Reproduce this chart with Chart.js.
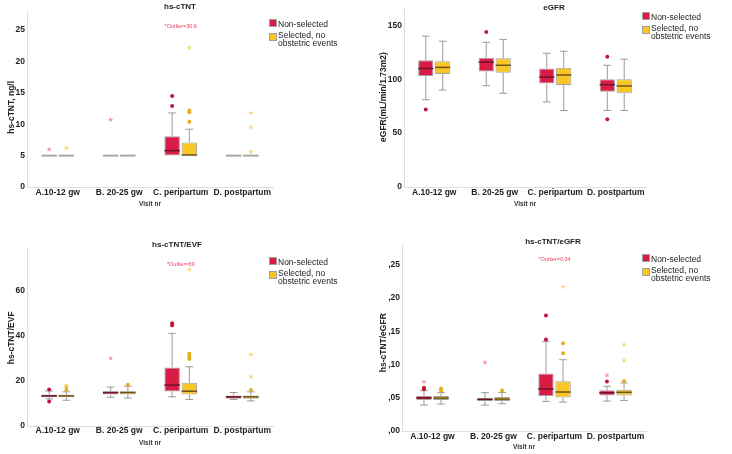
<!DOCTYPE html>
<html>
<head>
<meta charset="utf-8">
<script src="https://cdn.jsdelivr.net/npm/chart.js@4.4.1/dist/chart.umd.min.js"></script>
<style>
  body { margin: 0; background: #fff; }
  #wrap { position: relative; width: 732px; height: 454px; overflow: hidden;
          font-family: 'Liberation Sans', Arial, sans-serif; }
  canvas { position: absolute; }
  .sw { position: absolute; width: 8px; height: 8px; box-sizing: border-box; border: 1px solid #a0a0a0; }
  .lt { position: absolute; font-size: 8.5px; line-height: 10px; color: #222; white-space: nowrap; }
</style>
</head>
<body>
<div id="wrap"></div>
<script>
const FONT = "'Liberation Sans', Arial, sans-serif";

// categories and series
const visits = ['A.10-12 gw', 'B. 20-25 gw', 'C. peripartum', 'D. postpartum'];
const groups = ['Non-selected', 'Selected, no obstetric events'];
const groupColors = ['#D81C46', '#FAC624'];
const medianColors = ['#6a1424', '#6a531a'];
const outColors = ['#C8143C', '#E4AE1C'];
const extColors = ['#F59AAE', '#F8DA7A'];

// box stats per visit: [lower whisker, Q1, median, Q3, upper whisker]
// hs-cTNT
const tntNonBox = [[5, 5, 5, 5, 5], [5, 5, 5, 5, 5], [5, 5, 5.8, 8.1, 11.8], [5, 5, 5, 5, 5]];
const tntSelBox = [[5, 5, 5, 5, 5], [5, 5, 5, 5, 5], [5, 5, 5.1, 7.1, 9.2], [5, 5, 5, 5, 5]];
const tntNonOut = [[], [], [12.9, 14.5], []];
const tntSelOut = [[], [], [10.4, 11.9, 12.2], []];
const tntNonExt = [[6.0], [10.7], [], []];
const tntSelExt = [[6.2], [], [22.2], [5.6, 9.5, 11.8]];

// eGFR
const gfrNonBox = [[81, 103, 110, 117.7, 140], [94, 107.3, 116, 120, 134.3], [79, 96, 102, 110, 124.2], [71, 88.5, 95, 100, 113]];
const gfrSelBox = [[90, 104.8, 111, 116.8, 135.3], [87, 106, 113, 119.6, 137], [71, 94.7, 104, 110.7, 126], [71, 87, 93.8, 100, 118.7]];
const gfrNonOut = [[72], [144], [], [63, 121]];
const gfrSelOut = [[], [], [], []];
const gfrNonExt = [[], [], [], []];
const gfrSelExt = [[], [], [], []];

// hs-cTNT/EVF
const evfNonBox = [[12, 12.7, 13.3, 13.9, 15.5], [12.7, 13.9, 14.8, 15.4, 17.2], [12.9, 15.3, 18.1, 25.9, 41], [11.7, 12.1, 12.9, 13.5, 14.8]];
const evfSelBox = [[11.4, 12.7, 13.3, 13.9, 15.1], [12.4, 13.9, 14.8, 15.4, 17.6], [11.7, 13.9, 15.4, 19.1, 26.2], [11.1, 12.1, 12.9, 13.5, 15.1]];
const evfNonOut = [[10.8, 16.1], [], [44.6, 45.5], []];
const evfSelOut = [[15.9, 17.5], [18.2], [29.6, 30.7, 32], [15.9]];
const evfNonExt = [[], [29.9], [], []];
const evfSelExt = [[18], [], [69.2], [21.8, 31.6]];

// hs-cTNT/eGFR
const ratioNonBox = [[0.039, 0.0466, 0.05, 0.0531, 0.0607], [0.039, 0.045, 0.0476, 0.0496, 0.0577], [0.0445, 0.0526, 0.0633, 0.0865, 0.1346], [0.045, 0.0536, 0.0577, 0.0612, 0.0673]];
const ratioSelBox = [[0.0405, 0.0466, 0.0496, 0.0526, 0.0577], [0.041, 0.045, 0.048, 0.0511, 0.058], [0.0435, 0.0506, 0.0587, 0.0749, 0.1073], [0.046, 0.0536, 0.0582, 0.062, 0.0724]];
const ratioNonOut = [[0.063, 0.065], [], [0.1376, 0.174], [0.0744]];
const ratioSelOut = [[0.061, 0.064], [0.061], [0.117, 0.132], [0.0754]];
const ratioNonExt = [[0.074], [0.103], [], [0.084]];
const ratioSelExt = [[], [], [0.217], [0.106, 0.13]];

// whiskers, medians, outliers and notes, drawn through the chart's own scales
const boxParts = {
  id: 'boxParts',
  afterDatasetsDraw(chart, args, opts) {
    const ctx = chart.ctx;
    const y = chart.scales.y;
    chart.data.datasets.forEach((ds, i) => {
      const meta = chart.getDatasetMeta(i);
      meta.data.forEach((bar, j) => {
        const [lo, q1, med, q3, hi] = ds.stats[j];
        const x = bar.x, w = bar.width, cap = w * 0.25;
        ctx.save();
        ctx.strokeStyle = '#9a9a9a';
        ctx.lineWidth = 1;
        ctx.beginPath();
        if (hi > q3) {
          ctx.moveTo(x, y.getPixelForValue(q3)); ctx.lineTo(x, y.getPixelForValue(hi));
          ctx.moveTo(x - cap, y.getPixelForValue(hi)); ctx.lineTo(x + cap, y.getPixelForValue(hi));
        }
        if (lo < q1) {
          ctx.moveTo(x, y.getPixelForValue(q1)); ctx.lineTo(x, y.getPixelForValue(lo));
          ctx.moveTo(x - cap, y.getPixelForValue(lo)); ctx.lineTo(x + cap, y.getPixelForValue(lo));
        }
        ctx.stroke();
        // median
        ctx.beginPath();
        if (q3 === q1) {
          ctx.strokeStyle = '#a8a8a8';
          ctx.lineWidth = 2;
        } else {
          ctx.strokeStyle = medianColors[i];
          ctx.lineWidth = 1.5;
        }
        const my = y.getPixelForValue(med);
        ctx.moveTo(x - w / 2, my); ctx.lineTo(x + w / 2, my);
        ctx.stroke();
        // outliers
        ds.outliers[j].forEach(v => {
          ctx.beginPath();
          ctx.fillStyle = outColors[i];
          ctx.arc(x, y.getPixelForValue(v), 2, 0, Math.PI * 2);
          ctx.fill();
        });
        // extremes (stars)
        ds.extremes[j].forEach(v => {
          const cy = y.getPixelForValue(v);
          ctx.beginPath();
          ctx.fillStyle = extColors[i];
          for (let k = 0; k < 10; k++) {
            const r = k % 2 === 0 ? 2.8 : 1.2;
            const a = -Math.PI / 2 + k * Math.PI / 5;
            const px = x + r * Math.cos(a), py = cy + r * Math.sin(a);
            if (k === 0) ctx.moveTo(px, py); else ctx.lineTo(px, py);
          }
          ctx.closePath();
          ctx.fill();
        });
        ctx.restore();
      });
    });
    if (opts.note) {
      const xs = chart.scales.x;
      ctx.save();
      ctx.fillStyle = '#E8405E';
      ctx.font = '5.5px ' + FONT;
      ctx.textAlign = 'center';
      ctx.textBaseline = 'middle';
      ctx.fillText(opts.note, xs.getPixelForValue(2), y.getPixelForValue(opts.noteValue));
      ctx.restore();
    }
  }
};

const panels = [
  { left: 0, top: 0, title: 'hs-cTNT', yTitle: 'hs-cTNT, ng/l       ', max: 28, step: 5,
    box: [tntNonBox, tntSelBox], out: [tntNonOut, tntSelOut], ext: [tntNonExt, tntSelExt],
    note: '*Outlier=30.6', noteValue: 25.6,
    area: [27, 273, 11.2, 187], titleX: 180, titleY: 6.7, xLabelY: 193, visitY: 204, yTitleX: 11.7, legend: [269, 19] },
  { left: 366, top: 0, title: 'eGFR', yTitle: 'eGFR(mL/min/1.73m2)', max: 167, step: 50,
    box: [gfrNonBox, gfrSelBox], out: [gfrNonOut, gfrSelOut], ext: [gfrNonExt, gfrSelExt],
    area: [38, 280, 5.9, 187], titleX: 188, titleY: 6.7, xLabelY: 192.7, visitY: 204, yTitleX: 17.3, legend: [276, 12] },
  { left: 0, top: 227, title: 'hs-cTNT/EVF', yTitle: 'hs-cTNT/EVF', max: 78, step: 20,
    box: [evfNonBox, evfSelBox], out: [evfNonOut, evfSelOut], ext: [evfNonExt, evfSelExt],
    note: '*Outlier=69', noteValue: 71.6,
    area: [27, 273, 22.7, 199], titleX: 177, titleY: 18, xLabelY: 204, visitY: 216, yTitleX: 11.7, legend: [269, 30] },
  { left: 366, top: 227, title: 'hs-cTNT/eGFR', yTitle: 'hs-cTNT/eGFR    ', max: 0.28, step: 0.05,
    box: [ratioNonBox, ratioSelBox], out: [ratioNonOut, ratioSelOut], ext: [ratioNonExt, ratioSelExt],
    note: '*Outlier=0.34', noteValue: 0.258, comma: true,
    area: [36, 280, 18, 204], titleX: 187, titleY: 15, xLabelY: 209.3, visitY: 220, yTitleX: 17.3, legend: [276, 27] }
];

const W = 366, H = 227;
const wrap = document.getElementById('wrap');

function addLegend(p) {
  const [lx, ly] = p.legend;
  const items = [
    { color: groupColors[0], lines: [groups[0]], top: ly, centers: [4.5] },
    { color: groupColors[1], lines: ['Selected, no', 'obstetric events'], top: ly + 14, centers: [1.8, 10.3] }
  ];
  items.forEach(it => {
    const sw = document.createElement('div');
    sw.className = 'sw';
    sw.style.left = (p.left + lx) + 'px';
    sw.style.top = (p.top + it.top) + 'px';
    sw.style.background = it.color;
    wrap.appendChild(sw);
    it.lines.forEach((t, k) => {
      const d = document.createElement('div');
      d.className = 'lt';
      d.textContent = t;
      d.style.left = (p.left + lx + 9) + 'px';
      d.style.top = (p.top + it.top + it.centers[k] - 5) + 'px';
      wrap.appendChild(d);
    });
  });
}

function drawPanel(p) {
  const canvas = document.createElement('canvas');
  canvas.width = W; canvas.height = H;
  canvas.style.left = p.left + 'px';
  canvas.style.top = p.top + 'px';
  wrap.appendChild(canvas);

  const [aLeft, aRight, aTop, aBottom] = p.area;
  // side paddings only used to place the title centre where the reference has it
  const padL = Math.max(0, 2 * p.titleX - W);
  const padR = Math.max(0, W - 2 * p.titleX);
  const titlePadTop = p.titleY - 4.8;
  const datasets = groups.map((g, i) => ({
    label: g,
    data: p.box[i].map(s => [s[1], s[3]]),
    stats: p.box[i],
    outliers: p.out[i],
    extremes: p.ext[i],
    backgroundColor: groupColors[i],
    borderColor: '#a2a2a2',
    borderWidth: 1,
    borderSkipped: false,
    barPercentage: 0.9,
    categoryPercentage: 0.56
  }));

  return new Chart(canvas.getContext('2d'), {
    type: 'bar',
    data: { labels: visits, datasets: datasets },
    options: {
      responsive: false,
      animation: false,
      layout: { padding: { left: padL, right: padR, top: 0, bottom: 0 } },
      plugins: {
        legend: { display: false },
        tooltip: { enabled: false },
        title: {
          display: true,
          text: p.title,
          color: '#222',
          font: { family: FONT, size: 8, weight: 'bold' },
          padding: { top: titlePadTop, bottom: aTop - titlePadTop - 9.6 }
        },
        boxParts: { note: p.note, noteValue: p.noteValue }
      },
      scales: {
        x: {
          offset: true,
          grid: { display: false, drawTicks: false },
          border: { display: true, color: '#dedede' },
          ticks: {
            color: '#222',
            padding: p.xLabelY - aBottom - 5.1,
            maxRotation: 0,
            autoSkip: false,
            font: { family: FONT, size: 8.5, weight: 'bold' }
          },
          title: {
            display: true,
            text: 'Visit nr',
            color: '#333',
            font: { family: FONT, size: 6.5, weight: 'bold' },
            padding: { top: 0, bottom: H - p.visitY - 3.9 }
          },
          afterFit: s => { s.height = H - aBottom; }
        },
        y: {
          min: 0,
          max: p.max,
          grid: { display: false, drawTicks: false },
          border: { display: true, color: '#dedede' },
          ticks: {
            stepSize: p.step,
            includeBounds: false,
            padding: 2,
            color: '#222',
            font: { family: FONT, size: 8.5, weight: 'bold' },
            callback: v => p.comma ? v.toFixed(2).replace('0.', ',') : v
          },
          title: {
            display: true,
            text: p.yTitle,
            color: '#222',
            font: { family: FONT, size: 8.5, weight: 'bold' },
            padding: { top: p.yTitleX - padL - 5.1, bottom: 0 }
          },
          afterFit: s => { s.width = aLeft - padL; }
        },
        // empty right-hand axis that keeps room for the legend
        side: {
          type: 'linear',
          position: 'right',
          grid: { display: false, drawTicks: false },
          border: { display: false },
          ticks: { display: false },
          afterFit: s => { s.width = W - padR - aRight; }
        }
      }
    },
    plugins: [boxParts]
  });
}

panels.forEach(p => { drawPanel(p); addLegend(p); });
</script>
</body>
</html>
